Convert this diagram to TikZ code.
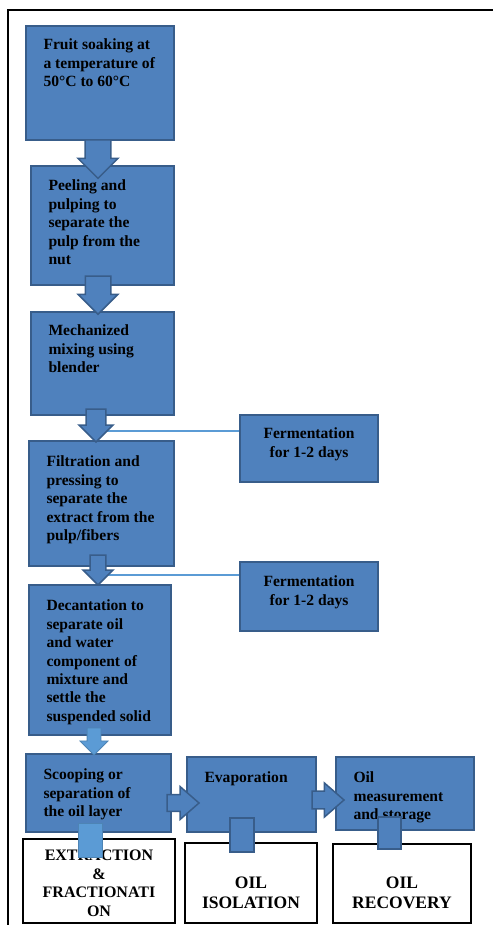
\documentclass[tikz,border=0pt]{standalone}
\usepackage{fontspec}
\setmainfont{Liberation Serif}
\usetikzlibrary{shapes.arrows,backgrounds}
\definecolor{boxfill}{RGB}{79,129,189}
\definecolor{boxline}{RGB}{56,93,138}
\definecolor{lightcol}{RGB}{91,155,213}
\tikzset{
  % process step box, text is put in as a label
  procbox/.style={rectangle, draw=boxline, fill=boxfill, line width=1.8pt, outer sep=0pt, inner sep=0pt, anchor=north west},
  % text in the top left corner of a box
  boxtext/.style={anchor=north west, align=left, inner xsep=17.5pt, inner ysep=#1, outer sep=0pt,
                  font=\bfseries\fontsize{15.6}{18.4}\selectfont},
  boxtext/.default={14pt},
  % stage box at the bottom
  stagebox/.style={rectangle, draw=black, fill=white, line width=1.1pt, outer sep=0pt, inner sep=0pt, anchor=north west},
  stagetext/.style={anchor=north, align=center, inner xsep=0pt, inner ysep=#1, outer sep=0pt,
                    font=\bfseries\fontsize{17.5}{20}\selectfont},
  stagetext/.default={33pt},
  % block arrows, shaft width = 2 x inner sep
  downarrow/.style={single arrow, shape border rotate=270, anchor=tail, draw=boxline, fill=boxfill,
                    line width=1.5pt, inner sep=#1, outer sep=0pt, single arrow tip angle=90},
  downarrow/.default={12pt},
  rightarrow/.style={single arrow, anchor=tail, draw=boxline, fill=boxfill,
                     line width=1.5pt, inner sep=#1, outer sep=0pt, single arrow tip angle=82},
  rightarrow/.default={7pt},
  % small connector block
  joint/.style={rectangle, draw=boxline, fill=boxfill, line width=1.5pt, outer sep=0pt, inner sep=0pt, anchor=north west},
  % thin line to the fermentation boxes
  feedline/.style={draw=lightcol, line width=1.2pt},
}
\begin{document}
\begin{tikzpicture}[x=1pt,y=-1pt]
  \useasboundingbox (0,0) rectangle (494,925);
  % page frame
  \draw[line width=1.5pt] (8,925) -- (8,10) -- (493,10);

  % main steps
  \node[procbox, minimum width=148pt, minimum height=114pt,
        label={[boxtext=13pt]north west:{Fruit soaking at\\a temperature of\\50°C to 60°C}}] (s1) at (26,26) {};
  \node[procbox, minimum width=143pt, minimum height=119pt,
        label={[boxtext=14pt]north west:{Peeling and\\pulping to\\separate the\\pulp from the\\nut}}] (s2) at (31,166) {};
  \node[procbox, minimum width=143pt, minimum height=103pt,
        label={[boxtext=13pt]north west:{Mechanized\\mixing using\\blender}}] (s3) at (31,312) {};
  \node[procbox, minimum width=145pt, minimum height=125pt,
        label={[boxtext=15pt]north west:{Filtration and\\pressing to\\separate the\\extract from the\\pulp/fibers}}] (s4) at (29,441) {};
  \node[procbox, minimum width=142pt, minimum height=150pt,
        label={[boxtext=15pt]north west:{Decantation to\\separate oil\\and water\\component of\\mixture and\\settle the\\suspended solid}}] (s5) at (29,585) {};
  \node[procbox, minimum width=145pt, minimum height=78pt,
        label={[boxtext=15pt]north west:{Scooping or\\separation of\\the oil layer}}] (s6) at (26,754) {};
  \node[procbox, minimum width=129pt, minimum height=75pt,
        label={[boxtext=15pt]north west:{Evaporation}}] (s7) at (187,757) {};
  \node[procbox, minimum width=138pt, minimum height=73pt,
        label={[boxtext=15pt]north west:{Oil\\measurement\\and storage}}] (s8) at (336,757) {};

  % fermentation boxes
  \node[procbox, minimum width=138pt, minimum height=67pt,
        label={[boxtext=13pt, anchor=north, align=center]north:{Fermentation\\for 1-2 days}}] (f1) at (240,415) {};
  \node[procbox, minimum width=138pt, minimum height=69pt,
        label={[boxtext=14pt, anchor=north, align=center]north:{Fermentation\\for 1-2 days}}] (f2) at (240,562) {};

  % stages
  \node[stagebox, minimum width=152pt, minimum height=84pt,
        label={[stagetext=11pt, font=\bfseries\fontsize{16}{18.5}\selectfont]north:{EXTRACTION\\\&\\FRACTIONATI\\ON}}] (g1) at (23,839) {};
  \node[stagebox, minimum width=132pt, minimum height=80pt,
        label={[stagetext=34pt]north:{OIL\\ISOLATION}}] (g2) at (185,843) {};
  \node[stagebox, minimum width=138pt, minimum height=79pt,
        label={[stagetext=33pt]north:{OIL\\RECOVERY}}] (g3) at (333,844) {};

  % arrows between the steps
  \node[downarrow=12pt, minimum height=32pt, minimum width=40pt] (a1) at (98,140) {};
  \node[downarrow=12pt, minimum height=34pt, minimum width=36pt] (a2) at (98,276) {};
  \node[downarrow=9pt, minimum height=33pt, minimum width=34pt] (a3) at (96,409) {};
  \node[downarrow=7pt, minimum height=30pt, minimum width=30pt] (a4) at (98,555) {};
  \node[downarrow=6.5pt, minimum height=27pt, minimum width=25pt,
        fill=lightcol, draw=lightcol!85!black, line width=0.8pt] (a5) at (94,728) {};
  \node[rightarrow=6.5pt, minimum height=32pt, minimum width=33pt] (a6) at (167,803) {};
  \node[rightarrow=7pt, minimum height=32pt, minimum width=34pt] (a7) at (312,800) {};

  % lines to the fermentation boxes
  \coordinate (j1) at (96,431);
  \coordinate (j2) at (98,575);
  \begin{scope}[on background layer]
    \draw[feedline] (f1.west |- j1) -- (j1);
    \draw[feedline] (f2.west |- j2) -- (j2);
  \end{scope}

  % connector blocks to the stages
  \node[joint, minimum width=24pt, minimum height=34pt, fill=lightcol, draw=lightcol!85!black, line width=0.8pt] (c1) at (78,823) {};
  \node[joint, minimum width=24pt, minimum height=34pt] (c2) at (230,818) {};
  \node[joint, minimum width=23pt, minimum height=32pt] (c3) at (378,817) {};
\end{tikzpicture}
\end{document}
